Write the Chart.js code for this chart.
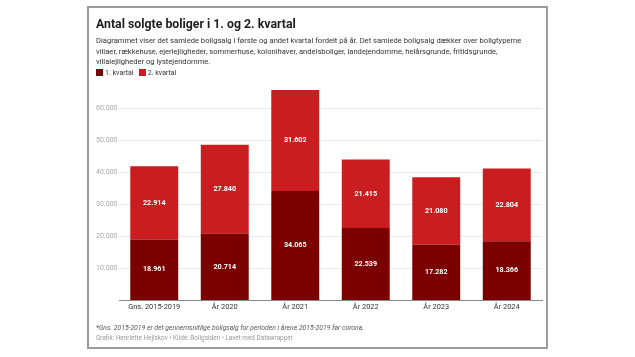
<!DOCTYPE html>
<html>
<head>
<meta charset="utf-8">
<script src="https://cdn.jsdelivr.net/npm/chart.js@4/dist/chart.umd.min.js"></script>
<style>
  html, body { margin:0; padding:0; background:#fff; width:635px; height:357px; overflow:hidden; font-family: Roboto, "Noto Sans", sans-serif; }
  #card { position:absolute; left:87px; top:6px; width:461px; height:343px; box-sizing:border-box; border:2px solid #9c9c9c; background:#fff; }
  #c { position:absolute; left:0; top:0; }
  .t { position:absolute; white-space:nowrap; }
  #title { left:96px; top:15px; font-size:12.3px; font-weight:700; color:#1d1d1d; line-height:18px; }
  #desc { left:96px; top:36px; font-size:7.6px; color:#333; line-height:10.5px; }
  #legend { left:96px; top:69px; font-size:7px; color:#333; line-height:9px; }
  .sw { display:inline-block; width:7px; height:7px; vertical-align:-1px; margin-right:2px; }
  #note { left:96px; top:323px; font-size:6.8px; font-style:italic; color:#555; line-height:10px; }
  #credit { left:96px; top:333px; font-size:6.4px; color:#999; line-height:10px; }
</style>
</head>
<body>
<div id="card"></div>
<canvas id="c" width="635" height="357"></canvas>
<div class="t" id="title">Antal solgte boliger i 1. og 2. kvartal</div>
<div class="t" id="desc">Diagrammet viser det samlede boligsalg i første og andet kvartal fordelt på år. Det samlede boligsalg dækker over boligtyperne<br>villaer, rækkehuse, ejerlejligheder, sommerhuse, kolonihaver, andelsboliger, landejendomme, helårsgrunde, fritidsgrunde,<br>villalejligheder og lystejendomme.</div>
<div class="t" id="legend"><span class="sw" style="background:#7b0000"></span>1. kvartal&nbsp;&nbsp;&nbsp;<span class="sw" style="background:#c91d1f"></span>2. kvartal</div>
<div class="t" id="note">*Gns. 2015-2019 er det gennemsnitlige boligsalg for perioden i årene 2015-2019 før corona.</div>
<div class="t" id="credit">Grafik: Henriette Hejlskov • Kilde: Boligsiden • Lavet med Datawrapper</div>
<script>
const categories = ['Gns. 2015-2019', 'År 2020', 'År 2021', 'År 2022', 'År 2023', 'År 2024'];
const kvartal1 = [18961, 20714, 34065, 22539, 17282, 18366];
const kvartal2 = [22914, 27840, 31602, 21415, 21080, 22804];
const yTicks = [10000, 20000, 30000, 40000, 50000, 60000];

const fmt = v => String(v).replace(/\B(?=(\d{3})+(?!\d))/g, '.');

const barLabels = {
  id: 'barLabels',
  afterDatasetsDraw(chart) {
    const ctx = chart.ctx;
    ctx.save();
    ctx.fillStyle = '#ffffff';
    ctx.font = 'bold 7.2px Roboto';
    ctx.textAlign = 'center';
    ctx.textBaseline = 'middle';
    chart.data.datasets.forEach((ds, di) => {
      const meta = chart.getDatasetMeta(di);
      meta.data.forEach((el, i) => {
        ctx.fillText(fmt(ds.data[i]), el.x, (el.y + el.base) / 2);
      });
    });
    ctx.restore();
  }
};

new Chart(document.getElementById('c'), {
  type: 'bar',
  data: {
    labels: categories,
    datasets: [
      { label: '1. kvartal', data: kvartal1, backgroundColor: '#7b0000', barPercentage: 0.68, categoryPercentage: 1 },
      { label: '2. kvartal', data: kvartal2, backgroundColor: '#c91d1f', barPercentage: 0.68, categoryPercentage: 1 }
    ]
  },
  options: {
    responsive: false,
    animation: false,
    devicePixelRatio: 1,
    layout: { padding: { left: 96, right: 93, top: 89, bottom: 42 } },
    plugins: { legend: { display: false }, tooltip: { enabled: false } },
    scales: {
      x: {
        stacked: true,
        grid: { display: false, drawTicks: false },
        border: { display: true, color: '#8a8a8a', width: 1 },
        ticks: { color: '#333', font: { family: 'Roboto', size: 7.4 }, padding: 3, maxRotation: 0 },
        afterFit: s => { s.height = 15; }
      },
      y: {
        stacked: true,
        min: 0,
        max: 66000,
        afterBuildTicks: s => { s.ticks = yTicks.map(v => ({ value: v })); },
        afterFit: s => { s.width = 23; },
        grid: { color: '#ececec', drawTicks: false },
        border: { display: false },
        ticks: { color: '#a6a6a6', crossAlign: 'far', padding: 3, font: { family: 'Roboto', size: 7 }, callback: v => fmt(v) }
      }
    }
  },
  plugins: [barLabels]
});
</script>
</body>
</html>
